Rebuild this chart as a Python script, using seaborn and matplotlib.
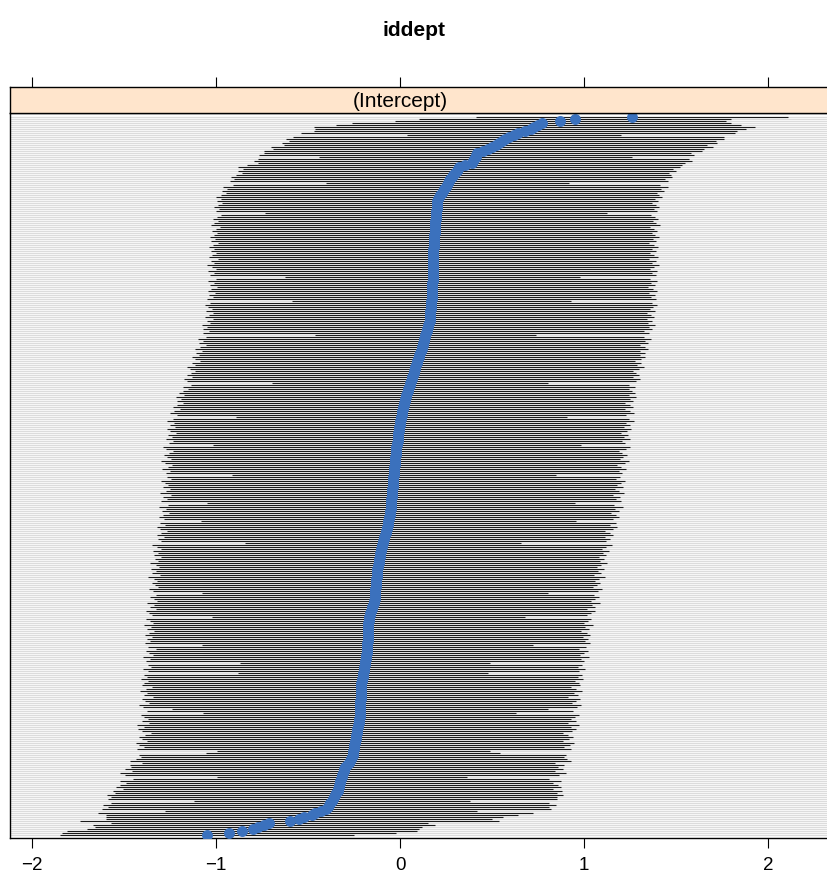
import numpy as np
import pandas as pd
import matplotlib
matplotlib.use("Agg")
import matplotlib.pyplot as plt
import seaborn as sns

# ---- data (sorted conditional modes, bottom to top) ----
title = "iddept"
strip_label = "(Intercept)"
xticks = [-2, -1, 0, 1, 2]
xtick_labels = ["\u22122", "\u22121", "0", "1", "2"]

estimates = [
    -1.05,-0.93,-0.86,-0.80,-0.77,-0.74,-0.71,-0.60,-0.55,-0.52,-0.48,-0.46,-0.43,-0.40,-0.39,-0.385,-0.38,-0.37,-0.365,-0.36,
    -0.355,-0.35,-0.34,-0.337,-0.334,-0.33,-0.327,-0.324,-0.32,-0.317,-0.314,-0.31,-0.307,-0.303,-0.30,-0.29,-0.28,-0.27,-0.265,-0.26,
    -0.258,-0.256,-0.254,-0.252,-0.25,-0.248,-0.246,-0.244,-0.242,-0.24,-0.238,-0.236,-0.234,-0.232,-0.23,-0.228,-0.226,-0.224,-0.222,-0.22,
    -0.219,-0.219,-0.218,-0.218,-0.217,-0.217,-0.216,-0.216,-0.215,-0.215,-0.214,-0.213,-0.213,-0.212,-0.211,-0.21,-0.21,-0.208,-0.206,-0.204,
    -0.202,-0.2,-0.198,-0.196,-0.194,-0.192,-0.19,-0.189,-0.187,-0.185,-0.184,-0.182,-0.18,-0.179,-0.179,-0.178,-0.178,-0.177,-0.177,-0.176,
    -0.176,-0.175,-0.175,-0.174,-0.174,-0.173,-0.172,-0.171,-0.171,-0.17,-0.166,-0.163,-0.159,-0.155,-0.151,-0.147,-0.143,-0.14,-0.139,-0.138,
    -0.137,-0.136,-0.135,-0.134,-0.133,-0.132,-0.131,-0.13,-0.129,-0.128,-0.127,-0.126,-0.125,-0.123,-0.121,-0.119,-0.117,-0.115,-0.113,-0.111,
    -0.109,-0.107,-0.105,-0.102,-0.10,-0.097,-0.094,-0.091,-0.088,-0.085,-0.082,-0.079,-0.076,-0.073,-0.07,-0.068,-0.066,-0.064,-0.062,-0.06,
    -0.057,-0.054,-0.053,-0.052,-0.051,-0.05,-0.049,-0.048,-0.047,-0.046,-0.045,-0.044,-0.043,-0.042,-0.041,-0.04,-0.039,-0.038,-0.037,-0.036,
    -0.035,-0.034,-0.033,-0.032,-0.031,-0.03,-0.029,-0.028,-0.027,-0.026,-0.025,-0.024,-0.023,-0.021,-0.02,-0.018,-0.016,-0.014,-0.013,-0.012,
    -0.011,-0.01,-0.008,-0.006,-0.004,-0.002,0.0,0.002,0.004,0.006,0.008,0.01,0.012,0.014,0.017,0.02,0.022,0.025,0.028,0.03,
    0.034,0.038,0.042,0.045,0.049,0.052,0.056,0.06,0.063,0.067,0.07,0.073,0.076,0.08,0.083,0.087,0.09,0.094,0.097,0.101,
    0.105,0.109,0.113,0.117,0.12,0.123,0.126,0.129,0.132,0.135,0.138,0.141,0.144,0.147,0.15,0.154,0.157,0.16,0.161,0.162,
    0.163,0.164,0.165,0.166,0.167,0.168,0.169,0.17,0.171,0.172,0.173,0.174,0.175,0.175,0.176,0.176,0.176,0.177,0.177,0.177,
    0.178,0.178,0.178,0.179,0.179,0.179,0.179,0.18,0.18,0.18,0.18,0.18,0.181,0.181,0.182,0.182,0.183,0.183,0.184,0.185,
    0.186,0.187,0.188,0.189,0.19,0.19,0.191,0.192,0.193,0.194,0.195,0.196,0.197,0.198,0.199,0.2,0.201,0.203,0.207,0.212,
    0.218,0.225,0.232,0.24,0.247,0.254,0.26,0.265,0.27,0.28,0.29,0.30,0.31,0.315,0.32,0.35,0.39,0.395,0.40,0.41,
    0.415,0.42,0.45,0.48,0.50,0.52,0.54,0.555,0.57,0.59,0.62,0.64,0.68,0.71,0.73,0.75,0.77,0.87,0.95,1.26,
]

half_widths = [
    0.80,0.91,0.95,0.90,0.89,0.93,0.86,1.14,1.05,1.08,1.12,1.18,0.85,1.22,1.20,1.23,1.19,0.75,1.22,1.21,
    1.24,1.20,1.22,1.17,1.21,1.19,1.16,1.20,1.13,0.68,1.18,1.21,1.15,1.19,1.16,1.18,1.12,1.20,1.17,1.15,
    1.16,0.80,0.74,1.18,1.14,1.17,1.19,1.13,1.16,1.18,1.15,1.12,1.17,1.19,1.16,1.20,1.14,1.18,1.15,1.17,
    1.19,0.85,1.16,1.02,1.18,1.20,1.15,1.17,1.19,1.13,1.18,1.16,1.20,1.17,1.14,1.19,1.18,1.16,1.20,1.17,
    1.19,0.68,1.17,1.20,1.16,1.18,0.68,1.19,1.17,1.21,1.16,1.18,1.20,1.15,1.19,0.90,1.21,1.18,1.20,1.17,
    1.21,1.19,1.16,1.20,1.18,1.22,1.17,1.19,1.21,0.85,1.18,1.20,1.22,1.17,1.21,1.19,1.23,1.18,1.20,1.22,
    1.19,0.94,1.21,1.23,1.18,1.20,1.22,1.19,1.21,1.24,1.18,1.22,1.20,1.23,1.19,1.21,1.24,1.20,1.22,1.19,
    1.23,1.21,1.24,1.20,1.22,1.25,0.75,1.21,1.23,1.20,1.24,1.22,1.19,1.23,1.25,1.21,1.24,1.02,1.22,1.25,
    1.23,1.20,1.24,1.22,1.26,1.21,1.00,1.25,1.22,1.24,1.20,1.26,1.23,1.21,1.25,1.22,1.24,1.26,1.21,1.23,
    0.88,1.24,1.22,1.26,1.23,1.21,1.25,1.27,1.22,1.24,1.26,1.23,1.21,1.25,1.27,1.00,1.24,1.22,1.26,1.23,
    1.25,1.21,1.24,1.26,1.22,1.25,1.23,1.27,1.24,0.90,1.22,1.26,1.24,1.21,1.25,1.23,1.20,1.24,1.22,1.25,
    1.21,1.24,1.22,1.20,1.23,1.19,0.75,1.22,1.24,1.20,1.23,1.21,1.19,1.22,1.24,1.20,1.22,1.18,1.21,1.23,
    1.20,1.22,1.19,1.23,1.21,1.18,1.22,1.20,1.23,1.19,0.60,1.21,1.18,1.22,1.20,1.23,1.19,1.21,1.18,1.22,
    1.20,1.18,1.22,1.19,1.21,1.23,1.20,0.76,1.22,1.19,1.21,1.18,1.22,1.20,1.17,1.21,1.19,1.22,1.18,0.80,
    1.21,1.19,1.22,1.18,1.20,1.23,1.19,1.21,1.17,1.22,1.20,1.18,1.21,1.19,1.22,1.20,1.17,1.21,1.19,1.22,
    1.20,1.18,1.21,1.19,1.17,1.22,1.20,1.18,1.21,1.19,1.17,0.93,1.20,1.18,1.21,1.19,1.17,1.20,1.18,1.21,
    1.19,1.17,1.20,1.18,1.21,1.16,0.66,1.19,1.17,1.20,1.18,1.16,1.19,1.17,1.20,1.18,1.16,1.19,1.17,0.85,
    1.18,1.16,1.19,1.17,1.20,1.15,1.18,1.16,1.19,1.17,0.58,1.18,1.15,1.17,1.20,1.10,1.03,0.90,0.85,0.85,
]

df = pd.DataFrame({"est": estimates, "hw": half_widths})
df["row"] = np.arange(len(df))
df["lo"] = df["est"] - df["hw"]
df["hi"] = df["est"] + df["hw"]

# ---- style ----
sns.set_style("white")
plt.rcParams["font.family"] = ["Liberation Sans", "DejaVu Sans"]
plt.rcParams["text.color"] = "black"
plt.rcParams["xtick.color"] = "black"
plt.rcParams["axes.labelcolor"] = "black"

W, H = 827, 882
fig = plt.figure(figsize=(W / 100, H / 100), dpi=100)

left_px, right_px = 10, 834
top_px, bot_px = 113, 838
strip_top = 87

ax = fig.add_axes([left_px / W, 1 - bot_px / H, (right_px - left_px) / W, (bot_px - top_px) / H])
sax = fig.add_axes([left_px / W, 1 - top_px / H, (right_px - left_px) / W, (top_px - strip_top) / H])

xlim = (-2.12, 2.358)
n = len(df)

ax.set_facecolor("white")
# reference lines per level
ax.hlines(df["row"], xlim[0], xlim[1], color="#dcdcdc", lw=0.9, zorder=1)
# intervals
ax.hlines(df["row"], df["lo"], df["hi"], color="#1a1a1a", lw=0.8, zorder=2)
# points
sns.scatterplot(data=df, x="est", y="row", ax=ax, color="#3b71bd", s=62,
                linewidth=0, zorder=3, legend=False)

ax.set_xlim(*xlim)
ax.set_ylim(-1.5, n + 1)
ax.set_xlabel("")
ax.set_ylabel("")
ax.set_yticks([])
ax.set_xticks(xticks)
ax.set_xticklabels(xtick_labels, fontsize=13.5)
ax.tick_params(axis="x", direction="out", length=7.5, width=0.8, color="black",
               labelcolor="black", pad=6, bottom=True)
for s in ax.spines.values():
    s.set_color("black")
    s.set_linewidth(1.0)

# strip
sax.set_facecolor("#ffe5cc")
sax.set_xlim(*xlim)
sax.set_ylim(0, 1)
sax.set_yticks([])
sax.set_xticks(xticks)
sax.set_xticklabels([])
sax.tick_params(axis="x", top=True, bottom=False, labeltop=False, labelbottom=False,
                direction="out", length=7.5, width=0.8, color="black")
for s in sax.spines.values():
    s.set_color("black")
    s.set_linewidth(1.0)
sax.text(0.0, 0.45, strip_label, ha="center", va="center", fontsize=15, color="black")

fig.text(0.5, 1 - 30 / H, title, ha="center", va="center", fontsize=15,
         fontweight="bold", color="black")

fig.savefig("out.png", dpi=100)
